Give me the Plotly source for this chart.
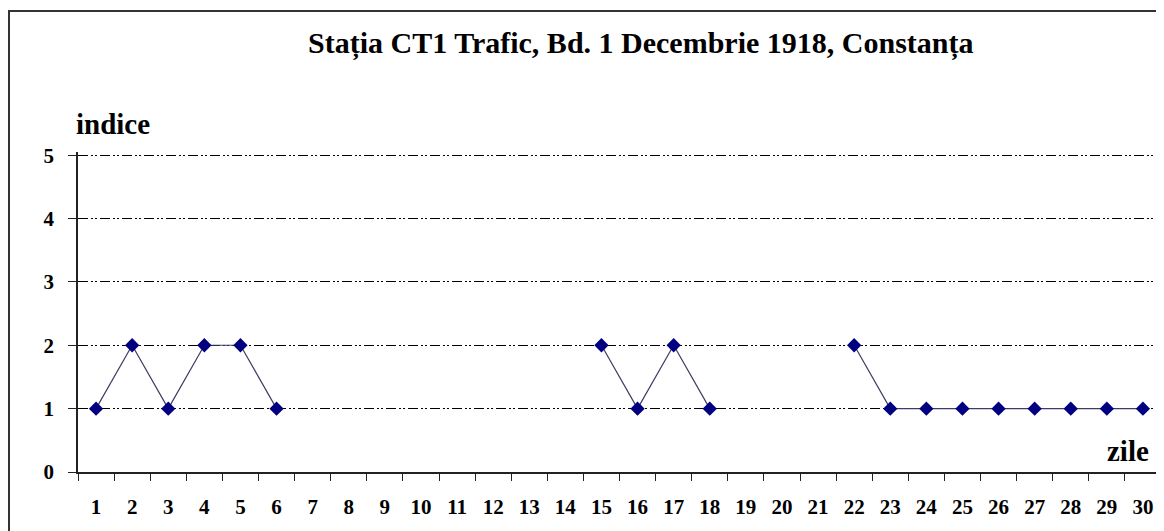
import plotly.graph_objects as go

days = [str(d) for d in range(1, 31)]
indice = [1, 2, 1, 2, 2, 1, None, None, None, None, None, None, None, None,
          2, 1, 2, 1, None, None, None, 2, 1, 1, 1, 1, 1, 1, 1, 1]
y_ticks = [0, 1, 2, 3, 4, 5]
y_top = 5.05

# page body margin offsets the figure by 8px
OFF = 8
W, H = 1164 - OFF, 531 - OFF
ML, MR, MT, MB = 78 - OFF, 3, 152 - OFF, 531 - 472
PW = W - ML - MR
PH = H - MT - MB

def px(x):
    return (x - OFF - ML) / PW

def py(y):
    return (H - MB - (y - OFF)) / PH

FONT = "Liberation Serif"

fig = go.Figure()
fig.add_trace(go.Scatter(
    x=days, y=indice, mode="lines+markers",
    line=dict(color="#3c3c66", width=1.2),
    marker=dict(symbol="diamond", size=11, color="#000080"),
    connectgaps=False, showlegend=False, cliponaxis=False,
))

fig.update_layout(
    width=W, height=H,
    margin=dict(l=ML, r=MR, t=MT, b=MB),
    paper_bgcolor="white", plot_bgcolor="white",
    font=dict(family=FONT, color="black"),
    xaxis=dict(
        type="category", tickson="boundaries",
        showgrid=False, showline=True, linecolor="#222", linewidth=1.5,
        ticks="outside", ticklen=7, tickcolor="#222", tickwidth=1.2,
        tickfont=dict(family=FONT, size=21, color="black", weight="bold"),
        ticklabelstandoff=15, zeroline=False, range=[-0.5, 29.5],
    ),
    yaxis=dict(
        range=[0, y_top], tickvals=y_ticks,
        showgrid=True, gridcolor="black", gridwidth=1,
        griddash="10px,3px,2px,2px,2px,3px",
        showline=True, linecolor="#222", linewidth=1.5,
        ticks="outside", ticklen=8, tickcolor="#222", tickwidth=1.2,
        tickfont=dict(family=FONT, size=21, color="black", weight="bold"),
        ticklabelstandoff=10, zeroline=False,
    ),
    shapes=[dict(
        type="rect", xref="paper", yref="paper",
        x0=px(9), x1=px(1180), y0=py(545), y1=py(11),
        line=dict(color="#333", width=2), fillcolor="rgba(0,0,0,0)", layer="above",
    )],
    annotations=[
        dict(text="<b>Stația CT1 Trafic, Bd. 1 Decembrie 1918, Constanța</b>",
             xref="paper", yref="paper", x=px(641), y=py(43),
             xanchor="center", yanchor="middle", showarrow=False,
             font=dict(family=FONT, size=30, color="black")),
        dict(text="<b>indice</b>", xref="paper", yref="paper",
             x=px(74), y=py(124), xanchor="left", yanchor="middle",
             showarrow=False, font=dict(family=FONT, size=29, color="black")),
        dict(text="<b>zile</b>", xref="paper", yref="paper",
             x=px(1151), y=py(451), xanchor="right", yanchor="middle",
             showarrow=False, font=dict(family=FONT, size=29, color="black")),
    ],
)

fig.write_html("out.html")
